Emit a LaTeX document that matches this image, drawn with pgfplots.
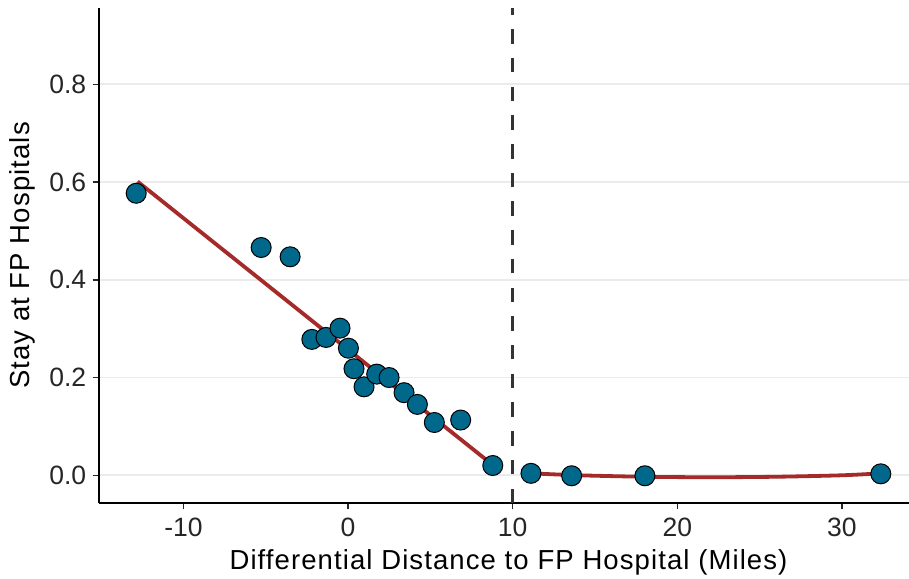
\documentclass[border=0pt]{standalone}
\usepackage{pgfplots}
\pgfplotsset{compat=1.18}
\usepackage{fontspec}
\setmainfont{Liberation Sans}
\definecolor{ptfill}{HTML}{00688B}
\definecolor{fitred}{HTML}{A52A2A}
\definecolor{gridgray}{HTML}{EBEBEB}
\begin{document}
\begin{tikzpicture}
\begin{axis}[
    scale only axis,
    width=819pt, height=495pt,
    xmin=-15.13, xmax=34.62,
    ymin=-0.0567, ymax=0.956,
    axis lines=left,
    axis line style={-, black, line width=1.5pt},
    xtick={-10,0,10,20,30},
    ytick={0,0.2,0.4,0.6,0.8},
    yticklabel style={/pgf/number format/fixed, /pgf/number format/fixed zerofill,
        /pgf/number format/precision=1, inner xsep=6.3pt},
    xticklabel style={inner ysep=8pt},
    /pgf/number format/assume math mode=true,
    tick label style={font=\fontsize{26.5}{30}\selectfont, text=black!85},
    tick align=outside,
    major tick length=6.3pt,
    tick style={black!85, line width=1.5pt},
    ymajorgrids,
    grid style={gridgray, line width=1.6pt},
    xlabel={Differential Distance to FP Hospital (Miles)},
    ylabel={Stay at FP Hospitals},
    label style={font=\fontsize{27.5}{31}\selectfont\addfontfeatures{LetterSpace=4}, text=black},
    xlabel style={at={(axis description cs:0.5,0)}, anchor=base, yshift=-66pt},
    ylabel style={at={(axis description cs:0,0.5)}, anchor=base, yshift=69pt},
]
\addplot[black!80, line width=3.3pt, dash pattern=on 14.5pt off 14.2pt] coordinates {(10,-0.0567) (10,0.956)};
\addplot[only marks, mark=*, mark size=10pt,
    mark options={fill=ptfill, draw=black, line width=1pt}] coordinates {
    (-12.87,0.577) (-5.28,0.466) (-3.52,0.447) (-2.20,0.278) (-1.34,0.282)
    (-0.49,0.301) (0.02,0.260) (0.36,0.218) (0.97,0.181) (1.74,0.207)
    (2.49,0.200) (3.40,0.169) (4.21,0.145) (5.24,0.108) (6.84,0.113)
    (8.79,0.020) (11.11,0.004) (13.58,-0.001) (18.03,-0.001) (32.36,0.003)
};
\addplot[fitred, line width=3.8pt] coordinates {(-12.79,0.601) (8.79,0.021)};
\addplot[fitred, line width=3.8pt, smooth] coordinates {
    (11.11,0.004) (14,0.000) (18,-0.003) (22,-0.004) (26,-0.003) (30,0.000) (32.36,0.004)
};
\coordinate (sw) at (rel axis cs:0,0);
\end{axis}
\pgfresetboundingbox
\path (sw) ++(-99pt,-75pt) rectangle ++(909pt,578pt);
\end{tikzpicture}
\end{document}
